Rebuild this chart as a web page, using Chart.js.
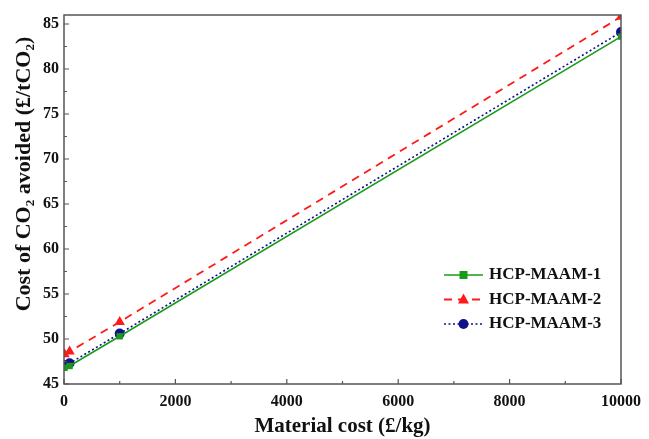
<!DOCTYPE html>
<html>
<head>
<meta charset="utf-8">
<script src="https://cdn.jsdelivr.net/npm/chart.js@4"></script>
<style>
    body { margin: 0; background: #fff; }
    #wrap { width: 649px; height: 439px; }
</style>
</head>
<body>
<div id="wrap"><canvas id="costChart"></canvas></div>
<script>
const materialCost = [10, 100, 1000, 10000];
const maam1 = [46.8, 47.0, 50.3, 83.6];
const maam2 = [48.3, 48.6, 51.9, 85.8];
const maam3 = [47.1, 47.3, 50.6, 84.1];
const seriesNames = ['HCP-MAAM-1', 'HCP-MAAM-2', 'HCP-MAAM-3'];
const xTicks = [0, 2000, 4000, 6000, 8000, 10000];
const yTicks = [45, 50, 55, 60, 65, 70, 75, 80, 85];
const yTitle = 'Cost of CO₂ avoided (£/tCO₂)';

const serif = "'Liberation Serif', 'Times New Roman', serif";
const toPoints = ys => materialCost.map((x, i) => ({ x, y: ys[i] }));

// frame, inward ticks, y title and the legend inside the plot
const framePlugin = {
    id: 'frame',
    afterDraw(chart) {
        const { ctx, chartArea: a, scales } = chart;
        ctx.save();
        ctx.strokeStyle = '#555';
        ctx.lineWidth = 1.5;
        ctx.strokeRect(a.left, a.top, a.right - a.left, a.bottom - a.top);

        ctx.lineWidth = 1.2;
        ctx.beginPath();
        for (let v = 0; v <= 10000; v += 1000) {
            const px = scales.x.getPixelForValue(v);
            const len = v % 2000 === 0 ? 5 : 3;
            ctx.moveTo(px, a.bottom); ctx.lineTo(px, a.bottom - len);
        }
        for (let v = 45; v <= 85; v += 2.5) {
            const py = scales.y.getPixelForValue(v);
            const len = v % 5 === 0 ? 5 : 3;
            ctx.moveTo(a.left, py); ctx.lineTo(a.left + len, py);
        }
        ctx.stroke();

        // y axis title, sits a bit above the plot's middle like the original
        ctx.save();
        ctx.translate(24, a.top + 159);
        ctx.rotate(-Math.PI / 2);
        ctx.font = 'bold 22px ' + serif;
        ctx.fillStyle = '#111';
        ctx.textAlign = 'center';
        ctx.textBaseline = 'middle';
        ctx.fillText(yTitle, 0, 0);
        ctx.restore();

        // legend
        ctx.font = 'bold 17px ' + serif;
        ctx.textBaseline = 'middle';
        chart.data.datasets.forEach((ds, i) => {
            const y = a.bottom - 109 + i * 24.5;
            const x0 = a.right - 177, x1 = a.right - 138;
            ctx.strokeStyle = ds.borderColor;
            ctx.lineWidth = ds.borderWidth;
            ctx.setLineDash(ds.borderDash || []);
            ctx.beginPath();
            ctx.moveTo(x0, y); ctx.lineTo(x1, y);
            ctx.stroke();
            ctx.setLineDash([]);
            ctx.fillStyle = ds.pointBackgroundColor;
            const mx = (x0 + x1) / 2;
            ctx.beginPath();
            if (ds.pointStyle === 'rect') ctx.rect(mx - 4, y - 4, 8, 8);
            else if (ds.pointStyle === 'triangle') { ctx.moveTo(mx, y - 6); ctx.lineTo(mx + 5.5, y + 4); ctx.lineTo(mx - 5.5, y + 4); ctx.closePath(); }
            else ctx.arc(mx, y, 5, 0, Math.PI * 2);
            ctx.fill();
            ctx.fillStyle = '#111';
            ctx.fillText(ds.label, x1 + 6, y);
        });
        ctx.restore();
    }
};

new Chart(document.getElementById('costChart'), {
    type: 'scatter',
    data: {
        datasets: [
            {
                label: seriesNames[0],
                data: toPoints(maam1),
                showLine: true,
                borderColor: '#1a9a1a',
                backgroundColor: '#1a9a1a',
                pointBackgroundColor: '#1a9a1a',
                borderWidth: 1.6,
                pointStyle: 'rect',
                pointRadius: 4.5,
                pointBorderWidth: 0
            },
            {
                label: seriesNames[1],
                data: toPoints(maam2),
                showLine: true,
                borderColor: '#ff1a1a',
                backgroundColor: '#ff1a1a',
                pointBackgroundColor: '#ff1a1a',
                borderWidth: 1.8,
                borderDash: [8, 6],
                pointStyle: 'triangle',
                pointRadius: 6,
                pointBorderWidth: 0
            },
            {
                label: seriesNames[2],
                data: toPoints(maam3),
                showLine: true,
                borderColor: '#10108c',
                backgroundColor: '#10108c',
                pointBackgroundColor: '#10108c',
                borderWidth: 1.6,
                borderDash: [2, 2.5],
                pointStyle: 'circle',
                pointRadius: 5,
                pointBorderWidth: 0
            }
        ]
    },
    options: {
        responsive: true,
        maintainAspectRatio: false,
        animation: false,
        layout: { padding: { top: 15, right: 23, left: 0, bottom: 0 } },
        plugins: {
            legend: { display: false },
            tooltip: { enabled: false }
        },
        scales: {
            x: {
                type: 'linear',
                min: 0,
                max: 10000,
                afterBuildTicks: s => { s.ticks = xTicks.map(value => ({ value })); },
                afterFit: s => { s.height = 55; },
                grid: { display: false, drawTicks: false },
                border: { display: false },
                ticks: {
                    padding: 8,
                    maxRotation: 0,
                    color: '#111',
                    callback: v => String(v),
                    font: { family: serif, size: 16, weight: 'bold' }
                },
                title: {
                    display: true,
                    text: 'Material cost (£/kg)',
                    color: '#111',
                    padding: { top: 2, bottom: 0 },
                    font: { family: serif, size: 21, weight: 'bold' }
                }
            },
            y: {
                min: 45,
                max: 86,
                afterBuildTicks: s => { s.ticks = yTicks.map(value => ({ value })); },
                afterFit: s => { s.width = 64; },
                grid: { display: false, drawTicks: false },
                border: { display: false },
                ticks: {
                    padding: 5,
                    color: '#111',
                    font: { family: serif, size: 16, weight: 'bold' }
                },
                title: { display: false }
            }
        }
    },
    plugins: [framePlugin]
});
</script>
</body>
</html>
